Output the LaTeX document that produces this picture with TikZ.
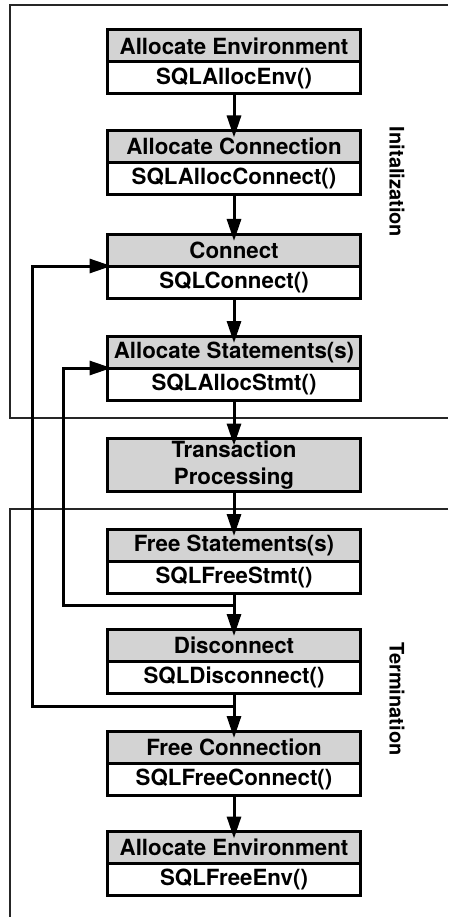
\documentclass[tikz,border=0pt]{standalone}
\usepackage{fontspec}
\setmainfont{TeX Gyre Heros}
\usetikzlibrary{arrows.meta,positioning}
\definecolor{hdrgray}{RGB}{211,211,211}
\tikzset{
  stage/.style={draw, line width=3pt, fill=hdrgray, minimum width=253pt,
    minimum height=32pt, inner sep=1pt, outer sep=0pt,
    font=\fontsize{22.3}{27}\selectfont\bfseries},
  call/.style={stage, fill=white},
  flow/.style={line width=3pt, -{Triangle[length=22pt,width=14pt]}, shorten >=-7pt},
  backflow/.style={flow, shorten >=-4pt},
  region/.style={line width=1.2pt, draw=black!85},
  phase/.style={rotate=-90, font=\fontsize{20}{24}\selectfont\bfseries},
}

\begin{document}
\begin{tikzpicture}[x=1pt,y=-1pt]
  \useasboundingbox (0,0) rectangle (448,917);
  % the two phases
  \draw[region] (448,5) -- (10,5) -- (10,418) -- (448,418);
  \draw[region] (448,509) -- (10,509) -- (10,917);
  \node[phase] (init) at (397,182) {Initalization};
  \node[phase] (term) at (397,699) {Termination};

  % initialization
  \node[stage] (env) at (234,46) {Allocate Environment};
  \node[call, below=0pt of env] (envf) {SQLAllocEnv()};
  \node[stage] (conn) at (234,146.5) {Allocate Connection};
  \node[call, below=0pt of conn] (connf) {SQLAllocConnect()};
  \node[stage] (connect) at (234,250) {Connect};
  \node[call, below=0pt of connect] (connectf) {SQLConnect()};
  \node[stage] (stmt) at (234,352) {Allocate Statements(s)};
  \node[call, below=0pt of stmt] (stmtf) {SQLAllocStmt()};

  \node[stage, minimum height=53pt, align=center] (trans) at (234,465) {Transaction\\Processing};

  % termination
  \node[stage] (freestmt) at (234,545) {Free Statements(s)};
  \node[call, below=0pt of freestmt] (freestmtf) {SQLFreeStmt()};
  \node[stage] (disc) at (234,645) {Disconnect};
  \node[call, below=0pt of disc] (discf) {SQLDisconnect()};
  \node[stage] (freeconn) at (234,747) {Free Connection};
  \node[call, below=0pt of freeconn] (freeconnf) {SQLFreeConnect()};
  \node[stage] (freeenv) at (234,847.5) {Allocate Environment};
  \node[call, below=0pt of freeenv] (freeenvf) {SQLFreeEnv()};

  \foreach \a/\b in {envf/conn, connf/connect, connectf/stmt, stmtf/trans,
                     trans/freestmt, freestmtf/disc, discf/freeconn, freeconnf/freeenv}
    \draw[flow] (\a.south) -- (\b.north);

  % going back
  \coordinate (inner) at (63,0);
  \coordinate (outer) at (32,0);
  \coordinate (j1) at ([yshift=-12pt]freestmtf.south);
  \coordinate (j2) at ([yshift=-13pt]discf.south);
  \draw[backflow] (j1) -| (inner |- stmtf.north west) -- (stmtf.north west);
  \draw[backflow] (j2) -| (outer |- connectf.north west) -- (connectf.north west);
\end{tikzpicture}
\end{document}
